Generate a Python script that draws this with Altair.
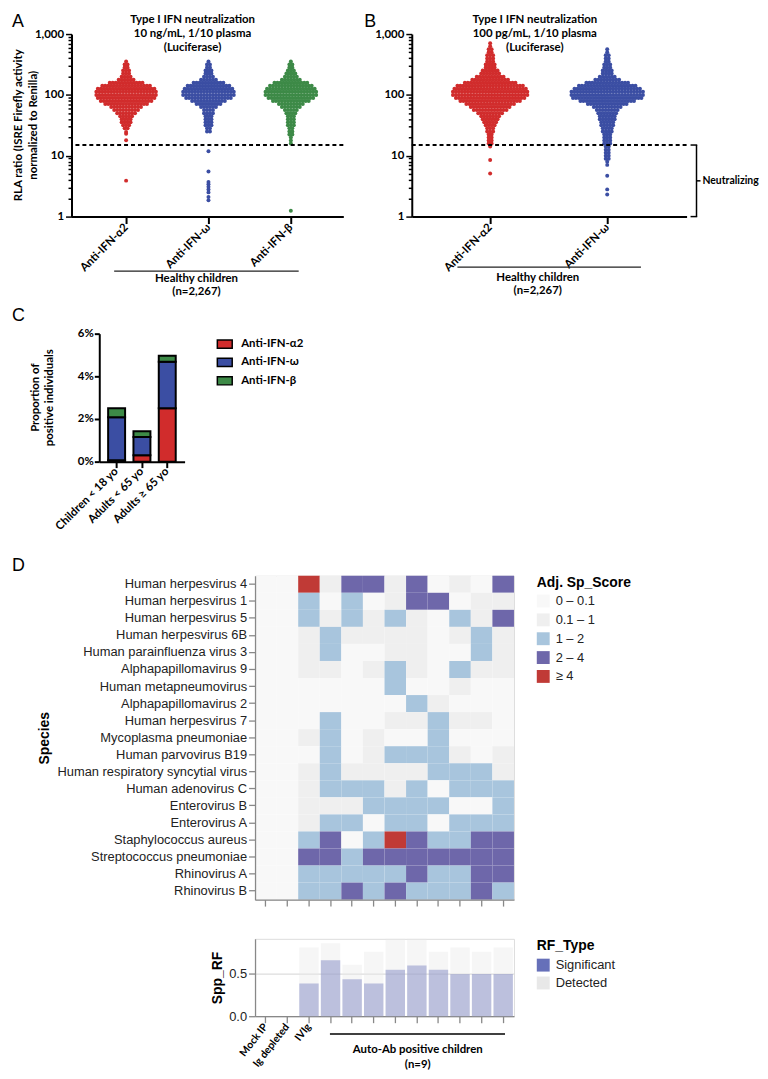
import altair as alt
import pandas as pd

# ============================ DATA ============================
A_GROUPS = ["Anti-IFN-α2", "Anti-IFN-ω", "Anti-IFN-β"]
B_GROUPS = ["Anti-IFN-α2", "Anti-IFN-ω"]
THRESHOLD = [15]
NEUTRAL_TOP, NEUTRAL_BOTTOM, NEUTRAL_MID = 15, 1, 3.87

# swarm profiles: log10(RLA ratio) level and number of dots side by side at that level
A_A2_LEVELS = [2.55, 2.50, 2.45, 2.40, 2.35, 2.30, 2.25, 2.20, 2.15, 2.10, 2.05, 2.00,
               1.95, 1.90, 1.85, 1.80, 1.75, 1.70, 1.65, 1.60, 1.55, 1.50, 1.45]
A_A2_COUNTS = [1, 2, 2, 3, 3, 4, 6, 12, 17, 20, 21, 21, 20, 18, 15, 11, 9, 7, 5, 4, 4, 3, 2]
A_A2_OUT = [24.5, 23.0, 18.0, 3.9]

A_OM_LEVELS = [2.55, 2.50, 2.45, 2.40, 2.35, 2.30, 2.25, 2.20, 2.15, 2.10, 2.05, 2.00,
               1.95, 1.90, 1.85, 1.80, 1.75, 1.70, 1.65, 1.60, 1.55, 1.50, 1.45, 1.40]
A_OM_COUNTS = [1, 2, 2, 3, 3, 4, 6, 11, 15, 17, 18, 18, 16, 12, 9, 6, 4, 4, 3, 3, 3, 3, 2, 2]
A_OM_OUT = [11.9, 5.5, 3.7, 3.4, 3.1, 2.8, 2.5, 2.1, 1.85]

A_BE_LEVELS = [2.55, 2.50, 2.45, 2.40, 2.35, 2.30, 2.25, 2.20, 2.15, 2.10, 2.05, 2.00,
               1.95, 1.90, 1.85, 1.80, 1.75, 1.70, 1.65, 1.60, 1.55, 1.50, 1.45, 1.40,
               1.35, 1.30, 1.25, 1.20]
A_BE_COUNTS = [1, 2, 2, 3, 4, 5, 7, 12, 15, 17, 18, 18, 16, 13, 9, 7, 5, 4, 3, 3,
               3, 3, 2, 2, 2, 1, 1, 1]
A_BE_OUT = [1.25]

B_A2_LEVELS = [2.85, 2.80, 2.75, 2.70, 2.65, 2.60, 2.55, 2.50, 2.45, 2.40, 2.35, 2.30,
               2.25, 2.20, 2.15, 2.10, 2.05, 2.00, 1.95, 1.90, 1.85, 1.80, 1.75, 1.70,
               1.65, 1.60, 1.55, 1.50, 1.45, 1.40, 1.35, 1.30, 1.25, 1.20, 1.15]
B_A2_COUNTS = [1, 1, 2, 2, 3, 3, 3, 4, 4, 6, 7, 10, 13, 18, 23, 25, 26, 26, 24, 21,
               17, 14, 12, 9, 7, 6, 5, 4, 3, 3, 2, 2, 2, 2, 1]
B_A2_OUT = [8.5, 5.1]

B_OM_LEVELS = [2.75, 2.70, 2.65, 2.60, 2.55, 2.50, 2.45, 2.40, 2.35, 2.30, 2.25, 2.20,
               2.15, 2.10, 2.05, 2.00, 1.95, 1.90, 1.85, 1.80, 1.75, 1.70, 1.65, 1.60,
               1.55, 1.50, 1.45, 1.40, 1.35, 1.30, 1.25, 1.20, 1.15, 1.10, 1.05, 1.00,
               0.95, 0.90, 0.85]
B_OM_COUNTS = [1, 1, 2, 2, 2, 3, 3, 4, 4, 6, 9, 15, 20, 23, 25, 25, 24, 19, 14, 10,
               8, 7, 6, 6, 5, 5, 4, 4, 3, 3, 3, 3, 2, 2, 2, 2, 2, 1, 1]
B_OM_OUT = [4.7, 2.8, 2.3]

# Panel C: proportion of positive individuals (%)
C_AGES = ["Children < 18 yo", "Adults < 65 yo", "Adults ≥ 65 yo"]
C_A2 = [0.06, 0.30, 2.50]
C_OMEGA = [2.02, 0.85, 2.18]
C_BETA = [0.42, 0.28, 0.28]

# Panel D heatmap
COLS = ["Mock IP", "Ig depleted", "IVIg", "P1", "P2", "P3", "P4", "P5", "P6", "P7", "P8", "P9"]
SPECIES = ["Human herpesvirus 4", "Human herpesvirus 1", "Human herpesvirus 5",
           "Human herpesvirus 6B", "Human parainfluenza virus 3", "Alphapapillomavirus 9",
           "Human metapneumovirus", "Alphapapillomavirus 2", "Human herpesvirus 7",
           "Mycoplasma pneumoniae", "Human parvovirus B19", "Human respiratory syncytial virus",
           "Human adenovirus C", "Enterovirus B", "Enterovirus A", "Staphylococcus aureus",
           "Streptococcus pneumoniae", "Rhinovirus A", "Rhinovirus B"]
SCORE_BINS = ["0 – 0.1", "0.1 – 1", "1 – 2", "2 – 4", "≥ 4"]
SCORE_ROWS = [
    [0, 0, 4, 1, 3, 3, 1, 3, 0, 1, 0, 3],
    [0, 0, 2, 0, 2, 0, 1, 3, 3, 0, 1, 1],
    [0, 0, 2, 1, 2, 1, 2, 1, 0, 2, 1, 3],
    [0, 0, 1, 2, 1, 1, 1, 1, 0, 1, 2, 1],
    [0, 0, 1, 2, 0, 0, 1, 1, 0, 0, 2, 1],
    [0, 0, 1, 1, 0, 1, 2, 1, 0, 2, 1, 1],
    [0, 0, 0, 0, 0, 0, 2, 0, 0, 1, 0, 0],
    [0, 0, 0, 0, 0, 0, 0, 2, 1, 0, 0, 0],
    [0, 0, 0, 2, 0, 0, 1, 1, 2, 1, 1, 0],
    [0, 0, 1, 2, 0, 1, 0, 0, 2, 0, 0, 0],
    [0, 0, 0, 2, 0, 1, 2, 2, 2, 1, 0, 1],
    [0, 0, 1, 2, 1, 1, 1, 1, 2, 2, 2, 1],
    [0, 0, 1, 2, 2, 2, 1, 2, 0, 2, 2, 2],
    [0, 0, 1, 1, 1, 2, 2, 2, 2, 0, 0, 2],
    [0, 0, 1, 2, 2, 0, 2, 2, 0, 2, 2, 2],
    [0, 0, 2, 3, 0, 2, 4, 3, 2, 2, 3, 3],
    [0, 0, 3, 3, 2, 3, 3, 3, 3, 3, 3, 3],
    [0, 0, 2, 2, 2, 2, 2, 3, 2, 2, 3, 3],
    [0, 0, 2, 2, 3, 2, 3, 2, 2, 2, 3, 2],
]
RF_SIGNIFICANT = [0, 0, 0.38, 0.65, 0.43, 0.38, 0.54, 0.59, 0.54, 0.49, 0.49, 0.49]
RF_DETECTED = [0, 0, 0.80, 0.85, 0.60, 0.75, 0.90, 0.90, 0.75, 0.80, 0.75, 0.80]
LABELLED_COLS = ["Mock IP", "Ig depleted", "IVIg"]

# ============================ STYLE ============================
RED, BLUE, GREEN = "#d12c2c", "#3b4ea3", "#3d8a47"
GP = "Lato"
VG = "Liberation Sans"
GPS = 11.5
ONE = pd.DataFrame({"k": [0]})


def bound(x1, x2, y1, y2):
    # invisible box that fixes the extent of a panel inside the page layout
    return alt.Chart(ONE).mark_rect(opacity=0).encode(
        x=alt.value(x1), x2=alt.value(x2), y=alt.value(y1), y2=alt.value(y2))


def spacer():
    return alt.Chart(ONE).mark_rect(opacity=0).encode(
        x=alt.value(0), x2=alt.value(1), y=alt.value(0), y2=alt.value(1)
    ).properties(width=1, height=1)


def txt(text, x, y, size=GPS, font=GP, weight="bold", align="center", baseline="top", lh=14, angle=0):
    return alt.Chart(ONE).mark_text(
        text=text, font=font, fontSize=size, fontWeight=weight, align=align, angle=angle,
        baseline=baseline, lineHeight=lh, color="black").encode(x=alt.value(x), y=alt.value(y))


def hrule(x1, x2, y, w=1.3, color="#222"):
    return alt.Chart(ONE).mark_rule(color=color, strokeWidth=w).encode(
        x=alt.value(x1), x2=alt.value(x2), y=alt.value(y))


def swarm(levels, counts, outliers, center, step, grp):
    rows = []
    for lv, n in zip(levels, counts):
        for i in range(n):
            rows.append({"x": center + (i - (n - 1) / 2) * step, "v": 10 ** lv, "grp": grp})
    for o in outliers:
        rows.append({"x": center, "v": o, "grp": grp})
    return rows


MAJOR = "abs(log(datum.value)/LN10 - round(log(datum.value)/LN10)) < 0.001"
LOG_TICKS = [m * d for d in (1, 10, 100) for m in range(1, 10)] + [1000]


def log_y():
    return alt.Y("v:Q", scale=alt.Scale(type="log", domain=[1, 1000], nice=False),
                 axis=alt.Axis(values=LOG_TICKS, labelExpr=f"{MAJOR} ? format(datum.value, ',') : ''",
                               tickSize={"condition": {"test": MAJOR, "value": 6}, "value": 3.5},
                               tickWidth=1.5, tickColor="black", domainColor="black", domainWidth=2,
                               labelFont=GP, labelFontWeight="bold", labelFontSize=GPS,
                               labelColor="black", labelPadding=2, labelOverlap=False,
                               grid=False, title=None))


def cat_x(groups, domain):
    names = "[" + ",".join(f"'{g}'" for g in groups) + "]"
    return alt.X("x:Q", scale=alt.Scale(domain=domain, nice=False, zero=False),
                 axis=alt.Axis(values=list(range(1, len(groups) + 1)),
                               labelExpr=f"{names}[round(datum.value) - 1]",
                               labelAngle=-45, labelAlign="right", labelBaseline="middle",
                               labelFont=GP, labelFontWeight="bold", labelFontSize=GPS,
                               labelColor="black", labelPadding=2, labelOverlap=False,
                               labelFlush=False, tickSize=7, tickWidth=2, tickColor="black",
                               domainColor="black", domainWidth=2, grid=False, title=None))


# ============================ PANEL A ============================
A_W, A_H = 274, 184
A_DOMAIN = [0.337, 3.637]
A_STEP = 3 / 83.0
dfA = pd.DataFrame(
    swarm(A_A2_LEVELS, A_A2_COUNTS, A_A2_OUT, 1, A_STEP, A_GROUPS[0])
    + swarm(A_OM_LEVELS, A_OM_COUNTS, A_OM_OUT, 2, A_STEP, A_GROUPS[1])
    + swarm(A_BE_LEVELS, A_BE_COUNTS, A_BE_OUT, 3, A_STEP, A_GROUPS[2]))
thr = pd.DataFrame({"v": THRESHOLD})

ptsA = alt.Chart(dfA).mark_circle(size=16, opacity=1).encode(
    x=cat_x(A_GROUPS, A_DOMAIN), y=log_y(),
    color=alt.Color("grp:N", scale=alt.Scale(domain=A_GROUPS, range=[RED, BLUE, GREEN]), legend=None))
thrA = alt.Chart(thr).mark_rule(color="black", strokeWidth=2, strokeDash=[4, 3]).encode(y="v:Q")

chartA = alt.layer(
    bound(-60, 293, -21, 272), ptsA, thrA,
    txt("A", -60, -21, size=18, font=VG, weight="normal", align="left"),
    txt(["Type I IFN neutralization", "10 ng/mL, 1/10 plasma", "(Luciferase)"], 122, -20),
    txt(["RLA ratio (ISRE Firefly activity", "normalized to Renilla)"], -59, 92, angle=270, lh=15),
    hrule(43, 229, 239),
    txt(["Healthy children", "(n=2,267)"], 126, 241, lh=13.5),
).properties(width=A_W, height=A_H)

# ============================ PANEL B ============================
B_W, B_H = 277, 184
B_DOMAIN = [0.3305, 2.678]
B_STEP = 3 / 118.0
dfB = pd.DataFrame(
    swarm(B_A2_LEVELS, B_A2_COUNTS, B_A2_OUT, 1, B_STEP, B_GROUPS[0])
    + swarm(B_OM_LEVELS, B_OM_COUNTS, B_OM_OUT, 2, B_STEP, B_GROUPS[1]))

ptsB = alt.Chart(dfB).mark_circle(size=16, opacity=1).encode(
    x=cat_x(B_GROUPS, B_DOMAIN), y=log_y(),
    color=alt.Color("grp:N", scale=alt.Scale(domain=B_GROUPS, range=[RED, BLUE]), legend=None))
thrB = alt.Chart(thr).mark_rule(color="black", strokeWidth=2, strokeDash=[4, 3]).encode(y="v:Q")

brk = pd.DataFrame({"v": [NEUTRAL_TOP], "v2": [NEUTRAL_BOTTOM]})
brk_v = alt.Chart(brk).mark_rule(color="black", strokeWidth=1.5).encode(
    x=alt.value(287), y="v:Q", y2="v2:Q")
ends = pd.DataFrame({"v": [NEUTRAL_TOP, NEUTRAL_BOTTOM]})
brk_e = alt.Chart(ends).mark_rule(color="black", strokeWidth=1.5).encode(
    x=alt.value(281), x2=alt.value(287.7), y="v:Q")
mid = pd.DataFrame({"v": [NEUTRAL_MID]})
brk_m = alt.Chart(mid).mark_rule(color="black", strokeWidth=1.5).encode(
    x=alt.value(287), x2=alt.value(291), y="v:Q")
neut = alt.Chart(mid).mark_text(text="Neutralizing", font=GP, fontWeight="bold", fontSize=10.5,
                                align="left", baseline="middle", color="black").encode(
    x=alt.value(293), y="v:Q")

chartB = alt.layer(
    bound(-48, 300, -21, 272), ptsB, thrB, brk_v, brk_e, brk_m, neut,
    txt("B", -48, -21, size=18, font=VG, weight="normal", align="left"),
    txt(["Type I IFN neutralization", "100 pg/mL, 1/10 plasma", "(Luciferase)"], 124, -20),
    hrule(46, 231, 235),
    txt(["Healthy children", "(n=2,267)"], 127, 240, lh=13.5),
).properties(width=B_W, height=B_H)

# ============================ PANEL C ============================
C_W, C_H = 86, 129
rowsC = []
for i, age in enumerate(C_AGES):
    for j, (g, vals) in enumerate(zip(A_GROUPS, [C_A2, C_OMEGA, C_BETA])):
        rowsC.append({"age": age, "grp": g, "pct": vals[i], "ord": j})
dfC = pd.DataFrame(rowsC)

barsC = alt.Chart(dfC).mark_bar(stroke="black", strokeWidth=2).encode(
    x=alt.X("age:N", sort=C_AGES, scale=alt.Scale(paddingInner=0.33, paddingOuter=0.35),
            axis=alt.Axis(labelAngle=-45, labelAlign="right", labelBaseline="middle",
                          labelFont=GP, labelFontWeight="bold", labelFontSize=GPS,
                          labelColor="black", labelPadding=2, tickSize=6, tickWidth=2,
                          tickColor="black", domainColor="black", domainWidth=2, title=None)),
    y=alt.Y("pct:Q", stack="zero", scale=alt.Scale(domain=[0, 6], nice=False),
            axis=alt.Axis(values=[0, 2, 4, 6], labelExpr="datum.value + '%'", labelFont=GP,
                          labelFontWeight="bold", labelFontSize=GPS, labelColor="black",
                          labelPadding=1, tickSize=5, tickWidth=2, tickColor="black",
                          domainColor="black", domainWidth=2, grid=False, title=None)),
    color=alt.Color("grp:N", scale=alt.Scale(domain=A_GROUPS, range=[RED, BLUE, GREEN]),
                    legend=alt.Legend(title=None, orient="right", offset=30, padding=2,
                                      symbolType="M-1,-0.55L1,-0.55L1,0.55L-1,0.55Z",
                                      symbolSize=225, symbolStrokeColor="black",
                                      symbolStrokeWidth=1.5, symbolOpacity=1, labelFont=GP,
                                      labelFontWeight="bold", labelFontSize=GPS,
                                      labelColor="black", labelOffset=8, rowPadding=2.5)),
    order=alt.Order("ord:Q"))

chartC = alt.layer(
    bound(-88, 200, -28, 212), barsC,
    txt("C", -88, -27, size=18, font=VG, weight="normal", align="left"),
    txt(["Proportion of", "positive individuals"], -70, 64.5, angle=270, lh=14),
).properties(width=C_W, height=C_H)

# ============================ PANEL D heatmap ============================
D_W, D_H = 261, 326.5
rowsD = []
for sp, codes in zip(SPECIES, SCORE_ROWS):
    for col, c in zip(COLS, codes):
        rowsD.append({"sp": sp, "col": col, "score": SCORE_BINS[c]})
dfD = pd.DataFrame(rowsD)

VGAX = dict(tickColor="#888", domainColor="#888", tickWidth=1.3, domainWidth=1.3, tickSize=6.5,
            labelFont=VG, labelFontSize=13, labelColor="#222", titleFont=VG, titleFontSize=14,
            titleFontWeight="bold", titleColor="black")

heat = alt.Chart(dfD).mark_rect().encode(
    x=alt.X("col:N", sort=COLS, scale=alt.Scale(domain=COLS),
            axis=alt.Axis(labels=False, title=None, grid=False, **VGAX)),
    y=alt.Y("sp:N", sort=SPECIES, scale=alt.Scale(domain=SPECIES),
            axis=alt.Axis(title="Species", titlePadding=5, labelPadding=2, labelLimit=0,
                          grid=False, **VGAX)),
    color=alt.Color("score:N", scale=alt.Scale(domain=SCORE_BINS,
                                               range=["#f8f8f8", "#efefef", "#a8c5dd", "#6e67aa", "#c03a36"]),
                    legend=alt.Legend(title="Adj. Sp_Score", orient="right", offset=23,
                                      titleFont=VG, titleFontSize=14, titleFontWeight="bold",
                                      titleColor="black", titlePadding=5, labelFont=VG,
                                      labelFontSize=13, labelColor="#222", symbolType="square",
                                      symbolSize=169, symbolStrokeWidth=0, labelOffset=6,
                                      rowPadding=5)))

chartD = alt.layer(
    bound(-245, 300, -30.5, 346.5), heat,
    txt("D", -245, -18.5, size=18, font=VG, weight="normal", align="left"),
).properties(width=D_W, height=D_H, view=alt.ViewBackground(stroke="#dddddd"))

# ============================ PANEL D bars ============================
E_W, E_H = 261, 78
rowsE = []
for col, v in zip(COLS, RF_DETECTED):
    rowsE.append({"col": col, "type": "Detected", "val": v})
for col, v in zip(COLS, RF_SIGNIFICANT):
    rowsE.append({"col": col, "type": "Significant", "val": v})
dfE = pd.DataFrame(rowsE)
lab_list = "[" + ",".join(f"'{c}'" for c in LABELLED_COLS) + "]"

barsE = alt.Chart(dfE).mark_bar(opacity=0.4).encode(
    x=alt.X("col:N", sort=COLS, scale=alt.Scale(domain=COLS),
            axis=alt.Axis(labelExpr=f"indexof({lab_list}, datum.value) >= 0 ? datum.value : ''",
                          labelAngle=-52, labelAlign="right", labelBaseline="middle",
                          labelOverlap=False, labelPadding=2, title=None, grid=False,
                          **{**VGAX, "labelFont": GP, "labelFontSize": 10.5,
                             "labelColor": "black"}, labelFontWeight="bold")),
    y=alt.Y("val:Q", stack=None, scale=alt.Scale(nice=False, zero=True),
            axis=alt.Axis(values=[0, 0.5], format=".1f", title="Spp_RF", grid=True,
                          gridColor="#dddddd", gridWidth=1.3, labelPadding=2, **VGAX)),
    color=alt.Color("type:N", scale=alt.Scale(domain=["Significant", "Detected"],
                                              range=["#6670b9", "#e8e8e8"]),
                    legend=alt.Legend(title="RF_Type", orient="right", offset=23,
                                      titleFont=VG, titleFontSize=14, titleFontWeight="bold",
                                      titleColor="black", titlePadding=6, labelFont=VG,
                                      labelFontSize=13, labelColor="#222", symbolType="square",
                                      symbolSize=169, symbolStrokeWidth=0, symbolOpacity=1,
                                      labelOffset=6, rowPadding=4)))

chartE = alt.layer(
    bound(-245, 300, -18, 133), barsE,
    hrule(75.5, 252, 96, w=1.5, color="black"),
    txt(["Auto-Ab positive children", "(n=9)"], 164, 106, lh=15),
).properties(width=E_W, height=E_H, view=alt.ViewBackground(stroke="#dddddd"))

# ============================ LAYOUT ============================
row1 = alt.hconcat(spacer(), chartA, chartB, spacing=0).resolve_scale(
    x="independent", y="independent", color="independent")
row2 = alt.hconcat(spacer(), chartC, spacing=0).resolve_scale(
    x="independent", y="independent", color="independent")
row3 = alt.hconcat(spacer(), chartD, spacing=0).resolve_scale(
    x="independent", y="independent", color="independent")
row4 = alt.hconcat(spacer(), chartE, spacing=0).resolve_scale(
    x="independent", y="independent", color="independent")
chart = alt.vconcat(row1, row2, row3, row4, spacing=0, padding=0).resolve_scale(
    x="independent", y="independent", color="independent"
).configure_view(stroke="transparent")

chart.save("out.html", embed_options={"renderer": "svg", "actions": False})
